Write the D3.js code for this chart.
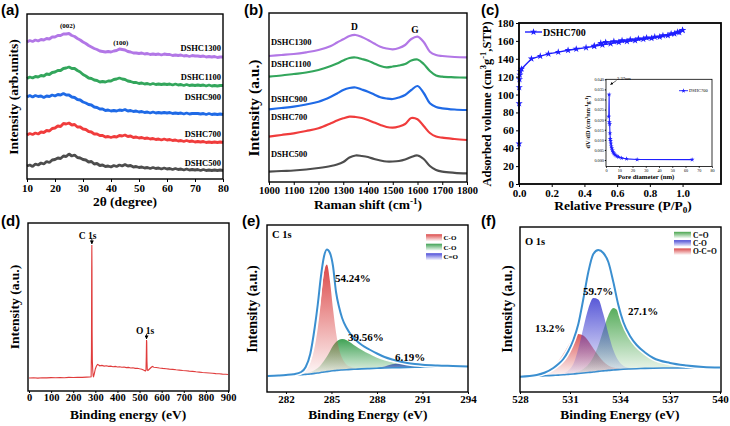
<!DOCTYPE html>
<html><head><meta charset="utf-8">
<script src="https://cdn.jsdelivr.net/npm/d3@7"></script>
<style>
body{margin:0;background:#fff;}
svg{display:block;}
</style></head><body>
<svg id="c" width="730" height="426"></svg>
<script>
// ---------- (a) XRD ----------
const xrdTheta = d3.range(10, 81, 1);
const xrdTicks = [10,20,30,40,50,60,70,80];
const xrd500 = [13,14,12.5,15,14,16,15,17.5,16.5,19,
 19.5,21,20.5,23,22.5,25,23,24,21.5,21,
 19.5,19,17,17.5,15,15.5,13.5,14,12.5,13,
 12,13.5,12.5,14,13,14.5,13,13.5,12,12.5,
 11.5,12,11,11.5,10.5,11.5,10.5,11,10,11,
 10,10.5,9.5,10.5,9.5,10,9,10,9,9.5,
 9,9.5,8.5,9.5,8.5,9,8.5,9,8.5,9,8.5];
const xrd700 = [44,45.5,44.5,46,45,47,46.5,48.5,48,50.5,
 51,53,52.5,55.5,55,56,54,54.5,52,52,
 50,49.5,47.5,47,45,45,43.5,43.5,42,42.5,
 41.5,42.5,42,43.5,43,44,42.5,43,41.5,42,
 41,41.5,40.5,41,40,40.5,39.5,40,39,40,
 39,39.5,38.5,39,38,38.5,37.5,38.5,37.5,38,
 37,37.5,37,37.5,36.5,37,36.5,37,36.5,37,36.5];
const xrd900 = [82,83.5,82,83.5,82.5,83,81.5,83,82.5,84,
 83,84.5,84,85.5,84,84,82,81.5,79.5,79,
 77,76,74.5,74,72,71.5,70,70,68.5,69,
 68,68.5,68,69,68.5,69.5,68,68.5,67.5,68,
 67,67.5,66.5,67,66,67,66,66.5,66,66.5,
 66,66.5,65.5,66,65.5,66,65,66,65,65.5,
 65.5,65.5,65,65.5,64.5,65.5,64.5,65,64.5,65,64.5];
const xrd1100 = [100.5,102,101,102.5,102,103.5,103,105,104.5,106.5,
 107,108.5,108.5,110.5,111,112,110.5,110.5,108.5,107,
 104.5,103,101,100.5,99,98.5,97,97.5,97,98,
 98,99.5,100,101,100,99.5,98,97.5,96.5,96.5,
 95.5,96,95,95.5,94.5,95.5,94.5,95,94.5,95,
 94.5,95,94,95,94,94.5,93.5,94.5,93.5,94,
 93.5,94,93.5,94,93,94,93,93.5,93,93.5,93.5];
const xrd1300 = [137,138.5,137.5,139,138,139.5,139,140.5,140,142,
 142,143.5,143.5,145,145,145.5,143.5,142.5,140.5,139,
 137,135.5,133.5,132,130.5,129.5,128,127.5,127,127.5,
 127,128,128.5,130,129.5,129,127.5,127,126,126,
 125.5,126,125,125.5,124.5,125,124.5,125,124,125,
 124.5,124.5,123.5,124,123.5,124,123,123.5,122.5,123.5,
 123,123,122.5,123,122,122.5,122,122.5,121.5,122,122];

// ---------- (b) Raman ----------
const ramanShift = [1000,1050,1100,1150,1200,1250,1275,1300,1325,1350,1375,1400,1425,1450,1475,1500,1525,1550,1575,1600,1625,1650,1675,1700,1750,1800];
const ramanTicks = [1000,1100,1200,1300,1400,1500,1600,1700,1800];
const raman500 = [10.3,11,11.5,12.5,14,16,17.5,20,24.5,26.5,26,25,23,21.5,20.5,20.5,21,22.5,25,26.5,23,16,12,10.3,9.2,8.7];
const raman700 = [45.3,47,48.7,51,53.7,58.7,61.5,63.7,65.3,65,64,62,59.5,57,55,54.3,55.5,58,64,62.7,56,49,45.5,44.3,43,42];
const raman900 = [72.7,74,75.3,77.5,80.3,85.3,88.5,92,94,94.5,92.5,90.3,87.5,84.7,83.5,83,84.5,87,92,96,89,78.7,75,73.7,72.5,72];
const raman1100 = [105.3,106.5,108,109.5,112,116,118.5,121.5,124,124.5,123,121.3,118.5,116,114.7,115.5,116.5,118,121.5,122.5,118,111,106.5,105.3,104.7,104.3];
const raman1300 = [126,127,128,129.7,132,136,139.5,142.7,146,147,145,142,138.5,135.3,133.5,132.7,134,137,143,145.3,140,130.3,127,126,125,124.7];

const sampleNames = ["DSHC500","DSHC700","DSHC900","DSHC1100","DSHC1300"];
const sampleColors = ["#4d4d4d","#f03c3c","#1f6ae6","#33a65c","#b277e6"];

// ---------- (c) N2 isotherm ----------
const adsP = [0.0002,0.0008,0.0015,0.003,0.005,0.008,0.015,0.076,0.13,0.18,0.24,0.30,0.35,0.41,0.46,0.51,0.56,0.61,0.66,0.71,0.76,0.81,0.86,0.91,0.95,0.98,1.0];
const adsV = [45,90,108,117,122,126,128.6,140,143,145.5,147.5,149.5,151,152.5,154,155.5,157,158.5,159.5,160.5,162,163,164.5,166,168,169.5,172];
const desP = [1.0,0.97,0.93,0.88,0.83,0.78,0.73,0.68,0.63,0.58,0.53,0.50,0.46];
const desV = [172,170,168,166,164.5,163.5,162.5,161.5,160.5,159.5,158.5,157.5,154.5];
const isoXTicks = [0,0.2,0.4,0.6,0.8,1.0];
const isoYTicks = [0,20,40,60,80,100,120,140,160,180];
const poreD = [2.1,2.37,2.55,2.75,3.0,3.2,3.45,3.7,4.0,4.4,4.8,5.3,5.9,6.6,7.4,8.3,9.5,11.8,15.5,23.5,65];
const poreDV = [0.0215,0.0325,0.0188,0.0178,0.0133,0.0105,0.0095,0.0082,0.0068,0.0058,0.0048,0.0040,0.0033,0.0027,0.0023,0.0019,0.0015,0.0010,0.0006,0.0003,0.0002];
const poreXTicks = [0,10,20,30,40,50,60,70,80];
const poreYTicks = [0,0.005,0.010,0.015,0.020,0.025,0.030,0.035,0.040];

// ---------- (d) XPS survey ----------
const surveyE = [0,20,40,60,80,100,120,140,160,180,200,220,240,260,275,281,282.5,283.5,284.2,284.8,285.5,286.5,288,290,292,295,300,305,310,315,320,330,340,350,360,370,380,390,400,410,420,430,440,450,460,470,480,490,500,510,520,526,529,530.5,531.5,532.5,533.5,535,538,545,552,558,565,575,590,605,620,635,650,665,680,695,710,725,740,755,770,785,800,815,830,845,860,875,890,900];
const surveyI = [13,13.2,12.9,13.3,13.1,13.4,13.2,13.5,13.3,13.6,13.5,13.8,13.6,13.9,14,14.2,40,120,146,125,60,30,22,15,14.5,17,22,25,26.5,26,25.2,25.6,24.9,25.2,24.6,24.9,24.3,24.6,24,24.3,23.7,24,23.4,23.6,23,23.2,22.6,22.8,22.2,21.8,20.8,20,21,35,51,49,30,21,20.5,22,23.5,24.5,23.8,23.5,23,22.6,22.3,21.9,21.6,21.2,20.9,20.5,20.3,19.9,19.6,19.2,18.9,18.5,18.3,18,17.7,17.4,17.2,16.9,16.7,16.5];
const surveyTicks = [0,100,200,300,400,500,600,700,800,900];

// ---------- (e) C 1s ----------
const c1sE = [280.8,281.5,282,282.5,283,283.3,283.6,283.9,284.1,284.3,284.5,284.7,284.9,285.1,285.3,285.5,285.7,286,286.3,286.6,287,287.5,288,288.5,289,289.5,290,290.5,291,292,293,294];
const c1sBase = [16,16.3,16.5,16.8,17.2,17.6,18,18.6,19,19.5,20,20.4,20.8,21.2,21.5,21.8,22,22.3,22.6,22.8,23.1,23.4,23.7,24,24.2,24.4,24.6,24.8,24.9,25.1,25.2,25.3];
const c1sPeak1 = [0,0,0,0.3,1.5,4,11,27,45,70,99,107,90,62,38,21,12,5,2.5,1.2,0.5,0,0,0,0,0,0,0,0,0,0,0];
const c1sPeak2 = [0,0,0,0,0.5,1,2,3.5,5,7.5,11,15,20,25,28.5,30.5,31,29.5,26.5,23,19,14.5,10.5,7.5,5.5,4,3,2.2,1.6,0.8,0.4,0.2];
const c1sPeak3 = [0,0,0,0,0,0,0,0,0,0,0,0,0,0,0,0,0,0,0,0,0,0.1,0.3,1.5,3.5,4,3,2,1.2,0.5,0.2,0];
const c1sEnv = [16,16.5,17,17.8,20,25,38,65,88,115,135,142.5,139,126,100,85,74,64,57,52,47,42.5,38.5,35,32.5,30.5,29,28,27.3,26.5,26,25.5];
const c1sTicks = [282,285,288,291,294];
const c1sLegend = ["C-O","C-O","C=O"];
const c1sPct = ["54.24%","39.56%","6.19%"];

// ---------- (f) O 1s ----------
const o1sE = [528,529,529.5,530,530.3,530.6,530.9,531.2,531.5,531.8,532.1,532.4,532.7,533,533.3,533.6,533.9,534.2,534.6,535,535.5,536,537,538,539,540];
const o1sBase = [15.3,15.8,16.2,16.6,16.9,17.2,17.6,18,18.5,19,19.5,20,20.6,21.1,21.6,22,22.4,22.7,23,23.3,23.6,23.8,24,24.1,24.2,24.3];
const o1sOCO = [0,1.2,3.5,9,14,21,29,36,39.5,37.5,31.5,23.5,16,9.5,5,2.5,1.2,0.5,0.2,0,0,0,0,0,0,0];
const o1sCO = [0,0,0,0.1,0.5,1.5,4,10,25,45,64,74,72,57,37,20,9,3.5,1,0.3,0,0,0,0,0,0];
const o1sCdO = [0,0,0,0,0,0,0.3,0.8,2,4,8,15,26,41,55,62,58,48,35,25,16,10.5,4.5,2,0.8,0.3];
const o1sEnv = [15.3,17,19.5,24,28,33,41,52,68,93,120,138,142,139,130,110,87,70,56,47,39.5,34,29,26.5,25,24.5];
const o1sTicks = [528,531,534,537,540];
const o1sLegend = ["C=O","C-O","O-C=O"];
const o1sPct = ["59.7%","27.1%","13.2%"];

// ================= drawing =================
const SERIF = "'Liberation Serif','Times New Roman',serif";
const SANS = "'Liberation Sans',Arial,sans-serif";
const svg = d3.select("#c");
const defs = svg.append("defs");

function T(x, y, s, fs, opt = {}) {
  const t = svg.append("text").attr("x", x).attr("y", y)
    .attr("font-family", opt.family || SERIF).attr("font-weight", "bold")
    .attr("font-size", fs).attr("fill", opt.fill || "#000")
    .attr("text-anchor", opt.anchor || "start");
  if (opt.rot) t.attr("transform", `rotate(${opt.rot},${x},${y})`);
  if (typeof s === "string") t.text(s);
  else {
    let shift = 0;
    s.forEach(([str, k]) => {
      const target = k === "sup" ? -0.38 * fs : k === "sub" ? 0.25 * fs : 0;
      t.append("tspan").text(str).attr("dy", target - shift)
        .attr("font-size", k === "n" ? fs : fs * 0.68);
      shift = target;
    });
  }
  return t;
}
function frame(x0, y0, x1, y1, sw) {
  svg.append("rect").attr("x", x0).attr("y", y0).attr("width", x1 - x0).attr("height", y1 - y0)
    .attr("fill", "none").attr("stroke", "#000").attr("stroke-width", sw || 1.4);
}
function axisB(x, y0, ticks, fmt, fs, ts, pad) {
  const g = svg.append("g").attr("transform", `translate(0,${y0})`)
    .call(d3.axisBottom(x).tickValues(ticks).tickFormat(fmt || (d => d)).tickSize(ts == null ? 3 : ts).tickPadding(pad == null ? 2 : pad));
  g.select(".domain").remove();
  g.selectAll("line").attr("stroke", "#000");
  g.selectAll("text").attr("font-family", SERIF).attr("font-weight", "bold").attr("font-size", fs).attr("fill", "#000");
  return g;
}
function axisL(y, x0, ticks, fmt, fs, ts, pad) {
  const g = svg.append("g").attr("transform", `translate(${x0},0)`)
    .call(d3.axisLeft(y).tickValues(ticks).tickFormat(fmt || (d => d)).tickSize(ts == null ? 3 : ts).tickPadding(pad == null ? 2 : pad));
  g.select(".domain").remove();
  g.selectAll("line").attr("stroke", "#000");
  g.selectAll("text").attr("font-family", SERIF).attr("font-weight", "bold").attr("font-size", fs).attr("fill", "#000");
  return g;
}
function grad(id, color, o1, o2) {
  const lg = defs.append("linearGradient").attr("id", id).attr("x1", 0).attr("y1", 0).attr("x2", 0).attr("y2", 1);
  lg.append("stop").attr("offset", 0).attr("stop-color", color).attr("stop-opacity", o1);
  lg.append("stop").attr("offset", 1).attr("stop-color", color).attr("stop-opacity", o2);
}
defs.append("marker").attr("id", "arr").attr("viewBox", "0 0 10 10").attr("refX", 9).attr("refY", 5)
  .attr("markerWidth", 5).attr("markerHeight", 5).attr("orient", "auto")
  .append("path").attr("d", "M0,0L10,5L0,10z").attr("fill", "#000");

// panel letters
[["(a)", 1, 15], ["(b)", 244, 15], ["(c)", 481, 15], ["(d)", 1, 226], ["(e)", 242, 226], ["(f)", 481, 226]]
  .forEach(([s, x, y]) => T(x, y, s, 15, { family: SANS }));

// ----- (a)
{
  const x = d3.scaleLinear().domain([10, 80]).range([27, 223]);
  const y = d3.scaleLinear().domain([0, 165]).range([179, 14]);
  const data = [xrd500, xrd700, xrd900, xrd1100, xrd1300];
  const line = d3.line().x((d, i) => x(xrdTheta[i])).y(d => y(d));
  data.forEach((v, k) => {
    svg.append("path").attr("d", line(v)).attr("fill", "none")
      .attr("stroke", sampleColors[k]).attr("stroke-width", 2.8).attr("stroke-linejoin", "bevel");
  });
  const labY = [16, 45, 82, 102, 131];
  sampleNames.forEach((n, k) => T(x(80) - 2, y(labY[k]) + 3, n, 8.5, { anchor: "end" }));
  T(x(24.5), y(154) + 2.5, "(002)", 7, { anchor: "middle" });
  T(x(43.5), y(137) + 2.5, "(100)", 7, { anchor: "middle" });
  axisB(x, 179, xrdTicks, null, 11);
  frame(27, 14, 223, 179);
  T(125, 206, "2θ (degree)", 13.5, { anchor: "middle" });
  T(18, 97, "Intensity (arb.units)", 13.5, { anchor: "middle", rot: -90 });
}

// ----- (b)
{
  const x = d3.scaleLinear().domain([1000, 1800]).range([269, 467]);
  const y = d3.scaleLinear().domain([0, 169]).range([182, 13]);
  const data = [raman500, raman700, raman900, raman1100, raman1300];
  const line = d3.line().x((d, i) => x(ramanShift[i])).y(d => y(d)).curve(d3.curveCatmullRom);
  data.forEach((v, k) => {
    svg.append("path").attr("d", line(v)).attr("fill", "none")
      .attr("stroke", sampleColors[k]).attr("stroke-width", 2.2);
  });
  const labY = [28, 64.7, 83, 117.7, 139.7];
  sampleNames.forEach((n, k) => T(x(1008), y(labY[k]) + 3, n, 8.5));
  T(x(1345), y(155) + 3, "D", 9.5, { anchor: "middle" });
  T(x(1590), y(152) + 3, "G", 9.5, { anchor: "middle" });
  axisB(x, 182, ramanTicks, null, 10.5);
  frame(269, 13, 467, 182);
  T(368, 209, [["Raman shift  (cm", "n"], ["-1", "sup"], [")", "n"]], 13.5, { anchor: "middle" });
  T(259, 108, "Intensity  (a.u.)", 15.5, { anchor: "middle", rot: -90 });
}

// ----- (c)
{
  const x = d3.scaleLinear().domain([0, 1.235]).range([519, 721]);
  const y = d3.scaleLinear().domain([0, 180]).range([184, 23]);
  const blue = "#1f1fff";
  const line = d3.line().x(d => x(d[0])).y(d => y(d[1]));
  const ads = adsP.map((p, i) => [p, adsV[i]]);
  const des = desP.map((p, i) => [p, desV[i]]);
  const star = d3.symbol().type(d3.symbolStar).size(16);
  [ads, des].forEach(s => {
    svg.append("path").attr("d", line(s)).attr("fill", "none").attr("stroke", blue).attr("stroke-width", 1.4);
    svg.selectAll(null).data(s).enter().append("path").attr("d", star)
      .attr("transform", d => `translate(${x(d[0])},${y(d[1])})`).attr("fill", blue);
  });
  // legend
  svg.append("line").attr("x1", 525).attr("x2", 542).attr("y1", 32).attr("y2", 32).attr("stroke", blue).attr("stroke-width", 1.4);
  svg.append("path").attr("d", star).attr("transform", "translate(533.5,32)").attr("fill", blue);
  T(543, 35.5, "DSHC700", 10);
  axisB(x, 184, isoXTicks, d3.format(".1f"), 11);
  axisL(y, 519, isoYTicks, null, 11);
  frame(519, 23, 721, 184, 1.8);
  T(623, 210, [["Relative Pressure  (P/P", "n"], ["0", "sub"], [")", "n"]], 13.5, { anchor: "middle" });
  T(491, 104, [["Adsorbed volume  (cm", "n"], ["3", "sup"], ["g", "n"], ["-1", "sup"], [",STP)", "n"]], 12.5, { anchor: "middle", rot: -90 });

  // inset
  const xi = d3.scaleLinear().domain([0, 80]).range([606, 712]);
  const yi = d3.scaleLinear().domain([-0.0032, 0.040]).range([166.5, 79.3]);
  svg.append("rect").attr("x", 606).attr("y", 79.3).attr("width", 106).attr("height", 87.2).attr("fill", "#fff");
  const pl = d3.line().x((d, i) => xi(poreD[i])).y(d => yi(d));
  svg.append("path").attr("d", pl(poreDV)).attr("fill", "none").attr("stroke", blue).attr("stroke-width", 1.1);
  const st2 = d3.symbol().type(d3.symbolStar).size(7);
  svg.selectAll(null).data(poreDV).enter().append("path").attr("d", st2)
    .attr("transform", (d, i) => `translate(${xi(poreD[i])},${yi(d)})`).attr("fill", blue);
  const gx = axisB(xi, 166.5, poreXTicks, null, 4.2, 1.2, 1);
  const gy = axisL(yi, 606, poreYTicks, d3.format(".3f"), 4.2, 1.2, 1);
  gx.selectAll("text").attr("font-weight", "normal");
  gy.selectAll("text").attr("font-weight", "normal");
  frame(606, 79.3, 712, 166.5, 0.8);
  svg.append("line").attr("x1", 679).attr("x2", 688).attr("y1", 90.7).attr("y2", 90.7).attr("stroke", blue).attr("stroke-width", 0.9);
  svg.append("path").attr("d", st2).attr("transform", "translate(683.5,90.7)").attr("fill", blue);
  T(689, 92.2, "DSHC700", 4.5).attr("font-weight", "normal");
  T(617, 79.5, "2.37nm", 4.5).attr("font-weight", "normal");
  svg.append("line").attr("x1", 616.5).attr("y1", 80.5).attr("x2", 610.5).attr("y2", 84.5)
    .attr("stroke", "#000").attr("stroke-width", 0.6).attr("marker-end", "url(#arr)");
  T(646, 179, "Pore diameter (nm)", 6.8, { anchor: "middle" });
  T(590, 122, [["dV/dD (cm", "n"], ["3", "sup"], ["nm", "n"], ["-1", "sup"], ["g", "n"], ["-1", "sup"], [")", "n"]], 6.3, { anchor: "middle", rot: -90 });
}

// ----- (d)
{
  const x = d3.scaleLinear().domain([0, 900]).range([29, 228]);
  const y = d3.scaleLinear().domain([0, 168]).range([391, 223]);
  const line = d3.line().x((d, i) => x(surveyE[i])).y(d => y(d));
  svg.append("path").attr("d", line(surveyI)).attr("fill", "none").attr("stroke", "#e03c3c").attr("stroke-width", 1.1);
  T(x(265), y(155) + 3, "C 1s", 9.5, { anchor: "middle" });
  svg.append("line").attr("x1", x(284.2)).attr("x2", x(284.2)).attr("y1", y(153)).attr("y2", y(147))
    .attr("stroke", "#000").attr("stroke-width", 0.8).attr("marker-end", "url(#arr)");
  T(x(525), y(60) + 3, "O 1s", 9.5, { anchor: "middle" });
  svg.append("line").attr("x1", x(531.5)).attr("x2", x(531.5)).attr("y1", y(57)).attr("y2", y(52))
    .attr("stroke", "#000").attr("stroke-width", 0.8).attr("marker-end", "url(#arr)");
  axisB(x, 391, surveyTicks, null, 10.5, 2, 1);
  frame(28, 223, 229, 391);
  T(128, 419, "Binding energy  (eV)", 13.5, { anchor: "middle" });
  T(19, 307, "Intensity  (a.u.)", 13.5, { anchor: "middle", rot: -90 });
}

// ----- (e)
{
  const x = d3.scaleLinear().domain([280.75, 294]).range([267, 468]);
  const y = d3.scaleLinear().domain([0, 167]).range([392, 225]);
  const cols = ["#d93a3a", "#2f9a45", "#3c3cd6"];
  cols.forEach((c, k) => grad("ge" + k, c, 0.92, 0.03));
  const peaks = [c1sPeak1, c1sPeak2, c1sPeak3];
  const area = h => d3.area().x((d, i) => x(c1sE[i])).y0((d, i) => y(c1sBase[i])).y1((d, i) => y(c1sBase[i] + h[i])).curve(d3.curveMonotoneX)(h);
  [2, 1, 0].forEach(k => svg.append("path").attr("d", area(peaks[k])).attr("fill", `url(#ge${k})`));
  const line = d3.line().x((d, i) => x(c1sE[i])).y(d => y(d)).curve(d3.curveMonotoneX);
  svg.append("path").attr("d", line(c1sBase)).attr("fill", "none").attr("stroke", "#3b8fd0").attr("stroke-width", 1.6);
  svg.append("path").attr("d", line(c1sEnv)).attr("fill", "none").attr("stroke", "#fff").attr("stroke-width", 5);
  svg.append("path").attr("d", line(c1sEnv)).attr("fill", "none").attr("stroke", "#3b8fd0").attr("stroke-width", 2);
  T(272, 238, "C 1s", 10.5);
  T(335, 282, c1sPct[0], 11);
  T(348, 341, c1sPct[1], 11);
  T(395, 361, c1sPct[2], 11);
  c1sLegend.forEach((s, k) => {
    const cy = 237.7 + k * 9.5;
    svg.append("rect").attr("x", 426).attr("y", cy - 3.5).attr("width", 16).attr("height", 7).attr("fill", `url(#ge${k})`);
    T(443.5, cy + 2.5, s, 7);
  });
  axisB(x, 392, c1sTicks, null, 11, 2, 1);
  frame(267, 225, 468, 392);
  T(368, 419, "Binding Energy (eV)", 13.5, { anchor: "middle" });
  T(257, 309, "Intensity (a.u.)", 14, { anchor: "middle", rot: -90 });
}

// ----- (f)
{
  const x = d3.scaleLinear().domain([528, 540]).range([520, 720]);
  const y = d3.scaleLinear().domain([0, 165]).range([392, 227]);
  const cols = ["#3a9e3f", "#3b3bd0", "#d63b3b"];
  cols.forEach((c, k) => grad("gf" + k, c, 0.92, 0.03));
  const peaks = [o1sCdO, o1sCO, o1sOCO];
  const area = h => d3.area().x((d, i) => x(o1sE[i])).y0((d, i) => y(o1sBase[i])).y1((d, i) => y(o1sBase[i] + h[i])).curve(d3.curveMonotoneX)(h);
  [2, 0, 1].forEach(k => svg.append("path").attr("d", area(peaks[k])).attr("fill", `url(#gf${k})`).attr("opacity", 0.92));
  const line = d3.line().x((d, i) => x(o1sE[i])).y(d => y(d)).curve(d3.curveMonotoneX);
  svg.append("path").attr("d", line(o1sBase)).attr("fill", "none").attr("stroke", "#3b8fd0").attr("stroke-width", 1.6);
  svg.append("path").attr("d", line(o1sEnv)).attr("fill", "none").attr("stroke", "#fff").attr("stroke-width", 5);
  svg.append("path").attr("d", line(o1sEnv)).attr("fill", "none").attr("stroke", "#3b8fd0").attr("stroke-width", 2);
  T(525, 245, "O 1s", 10.5);
  T(583, 295, o1sPct[0], 11);
  T(628, 315, o1sPct[1], 11);
  T(535, 332, o1sPct[2], 11);
  o1sLegend.forEach((s, k) => {
    const cy = 235 + k * 8.3;
    svg.append("rect").attr("x", 674).attr("y", cy - 3.2).attr("width", 17).attr("height", 6.5).attr("fill", `url(#gf${k})`);
    T(693, cy + 2.5, s, 7.5);
  });
  axisB(x, 392, o1sTicks, null, 11, 2, 1);
  frame(520, 227, 721, 392);
  T(620, 419, "Binding Energy (eV)", 13.5, { anchor: "middle" });
  T(512, 309, "Intensity (a.u.)", 14, { anchor: "middle", rot: -90 });
}
</script>
</body></html>
